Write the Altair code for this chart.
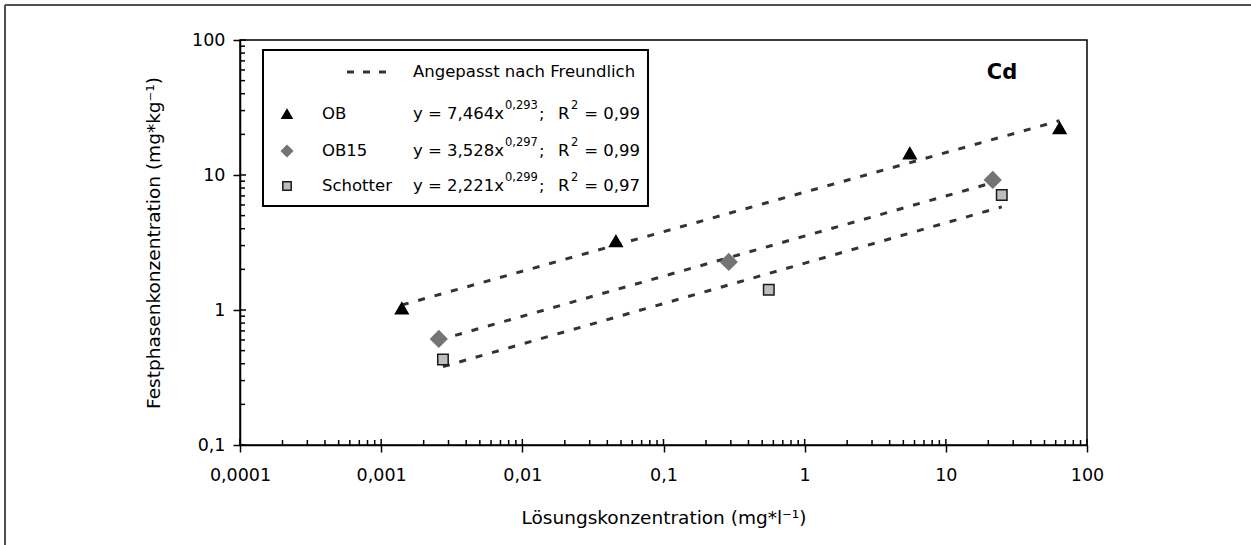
import altair as alt
import pandas as pd

FONT = "DejaVu Sans"

# Measured sorption data (solution vs. solid phase concentration), Cd
series = ["OB", "OB15", "Schotter"]
ob_x = [0.0014, 0.046, 5.56, 64.0]
ob_y = [1.03, 3.24, 14.5, 22.3]
ob15_x = [0.00256, 0.29, 21.5]
ob15_y = [0.61, 2.27, 9.2]
schotter_x = [0.00274, 0.557, 24.9]
schotter_y = [0.43, 1.41, 7.1]

# Freundlich isotherms y = K * x^n
fit_k = [7.464, 3.528, 2.221]
fit_n = [0.293, 0.297, 0.299]
fit_k_labels = ["7,464", "3,528", "2,221"]
fit_n_labels = ["0,293", "0,297", "0,299"]
fit_r2_labels = ["0,99", "0,99", "0,97"]

x_tick_values = [0.0001, 0.001, 0.01, 0.1, 1, 10, 100]
x_tick_labels = ["0,0001", "0,001", "0,01", "0,1", "1", "10", "100"]
y_tick_values = [0.1, 1, 10, 100]
y_tick_labels = ["0,1", "1", "10", "100"]

marker_shapes = ["triangle-up", "diamond", "square"]
marker_fills = ["#000000", "#747474", "#bdbdbd"]
marker_strokes = ["#000000", "#747474", "#1a1a1a"]
marker_sizes = [160, 260, 110]
legend_marker_sizes = [100, 120, 70]

W, H = 847, 405

# ---- tables -------------------------------------------------------------
xs_all = [ob_x, ob15_x, schotter_x]
ys_all = [ob_y, ob15_y, schotter_y]
point_tables = [pd.DataFrame({"x": xs, "y": ys}) for xs, ys in zip(xs_all, ys_all)]

fit_rows = []
for s, xs, k, n in zip(series, xs_all, fit_k, fit_n):
    for x in (min(xs), max(xs)):
        fit_rows.append((s, x, k * x ** n))
fits = pd.DataFrame(fit_rows, columns=["series", "x", "y"])

major_x = pd.DataFrame({"v": x_tick_values})
minor_x = pd.DataFrame({"v": [m * 10.0 ** e for e in range(-4, 2) for m in range(2, 10)]})
major_y = pd.DataFrame({"v": y_tick_values})
minor_y = pd.DataFrame({"v": [m * 10.0 ** e for e in range(-1, 2) for m in range(2, 10)]})


def lookup_expr(values, labels):
    vals = ",".join(repr(float(v)) for v in values)
    labs = ",".join("'" + l + "'" for l in labels)
    return f"[{labs}][indexof([{vals}], datum.value)]"


xscale = alt.Scale(type="log", domain=[x_tick_values[0], x_tick_values[-1]], nice=False)
yscale = alt.Scale(type="log", domain=[y_tick_values[0], y_tick_values[-1]], nice=False)

xaxis = alt.Axis(
    values=x_tick_values,
    labelExpr=lookup_expr(x_tick_values, x_tick_labels),
    labelFlush=False,
    title="Lösungskonzentration (mg*l⁻¹)",
    labelPadding=14,
    titlePadding=25,
)
yaxis = alt.Axis(
    values=y_tick_values,
    labelExpr=lookup_expr(y_tick_values, y_tick_labels),
    labelFlush=False,
    title="Festphasenkonzentration (mg*kg⁻¹)",
    labelPadding=8,
    titlePadding=28,
)

X = lambda f: alt.X(f, scale=xscale, axis=xaxis)
Y = lambda f: alt.Y(f, scale=yscale, axis=yaxis)

# ---- data layers ----------------------------------------------------------
fit_lines = alt.Chart(fits).mark_line(
    strokeDash=[7, 10], strokeWidth=3, color="#333333"
).encode(x=X("x:Q"), y=Y("y:Q"), detail="series:N")

marker_layers = [
    alt.Chart(tbl).mark_point(
        filled=True, opacity=1, shape=marker_shapes[i], fill=marker_fills[i],
        stroke=marker_strokes[i], strokeWidth=1.5, size=marker_sizes[i],
    ).encode(x=X("x:Q"), y=Y("y:Q"))
    for i, tbl in enumerate(point_tables)
]

# inward-pointing tick marks (major ticks cross the axis, minor ticks sit inside)
tick_style = dict(color="black", strokeWidth=1.5)
x_major_in = alt.Chart(major_x).mark_rule(**tick_style).encode(
    x=X("v:Q"), y=alt.value(H), y2=alt.value(H - 6))
x_minor_in = alt.Chart(minor_x).mark_rule(**tick_style).encode(
    x=X("v:Q"), y=alt.value(H), y2=alt.value(H - 5))
y_major_in = alt.Chart(major_y).mark_rule(**tick_style).encode(
    y=Y("v:Q"), x=alt.value(0), x2=alt.value(6))
y_minor_in = alt.Chart(minor_y).mark_rule(**tick_style).encode(
    y=Y("v:Q"), x=alt.value(0), x2=alt.value(5))

# ---- decorations: outer frame, legend box, panel label ---------------------
anchor = pd.DataFrame({"k": [0]})
LEG = 16.5
SUP = 11.5


def text(t, px, py, size=LEG, weight="normal", align="left"):
    return alt.Chart(anchor).mark_text(
        text=t, font=FONT, fontSize=size, fontWeight=weight, align=align,
        baseline="middle", color="black",
    ).encode(x=alt.value(px), y=alt.value(py))


def symbol(i, px, py, size):
    return alt.Chart(anchor).mark_point(
        filled=True, opacity=1, shape=marker_shapes[i], fill=marker_fills[i],
        stroke=marker_strokes[i], strokeWidth=1.5, size=size,
    ).encode(x=alt.value(px), y=alt.value(py))


outer_top = alt.Chart(anchor).mark_rule(color="#505050", strokeWidth=2).encode(
    x=alt.value(-235), x2=alt.value(1011), y=alt.value(-35))
outer_left = alt.Chart(anchor).mark_rule(color="#505050", strokeWidth=2).encode(
    x=alt.value(-235), y=alt.value(-35), y2=alt.value(505))

legend_box = alt.Chart(anchor).mark_rect(
    fill="white", stroke="black", strokeWidth=2
).encode(x=alt.value(23), x2=alt.value(408), y=alt.value(10), y2=alt.value(166))
legend_dash = alt.Chart(anchor).mark_rule(
    strokeDash=[7, 9], strokeWidth=3, color="#333333"
).encode(x=alt.value(107), x2=alt.value(148), y=alt.value(32))

legend_layers = [legend_box, legend_dash, text("Angepasst nach Freundlich", 173, 32)]
row_y = [74, 111, 146]
for i, s in enumerate(series):
    ry = row_y[i]
    legend_layers += [
        symbol(i, 47, ry, legend_marker_sizes[i]),
        text(s, 82, ry),
        text(f"y = {fit_k_labels[i]}x", 173, ry),
        text(fit_n_labels[i], 265, ry - 8, size=SUP),
        text(";", 299, ry),
        text("R", 318, ry),
        text("2", 331, ry - 8, size=SUP),
        text(f"= {fit_r2_labels[i]}", 400, ry, align="right"),
    ]

panel_label = text("Cd", 762, 33, size=21, weight="bold", align="center")

chart = alt.layer(
    outer_top, outer_left,
    x_minor_in, x_major_in, y_minor_in, y_major_in,
    fit_lines, *marker_layers,
    *legend_layers,
    panel_label,
).properties(
    width=W,
    height=H,
    padding={"left": 240, "top": 40, "right": 164, "bottom": 100},
    autosize=alt.AutoSizeParams(type="none"),
    background="white",
).configure_view(
    stroke="black", strokeWidth=1.5
).configure_axis(
    grid=False,
    domainColor="black",
    domainWidth=1.5,
    tickColor="black",
    tickWidth=1.5,
    tickSize=7,
    labelFont=FONT,
    labelFontSize=17.5,
    labelColor="black",
    titleFont=FONT,
    titleFontSize=18.5,
    titleFontWeight="normal",
    titleColor="black",
)

chart.save("out.html", embed_options={"renderer": "svg", "actions": False})
